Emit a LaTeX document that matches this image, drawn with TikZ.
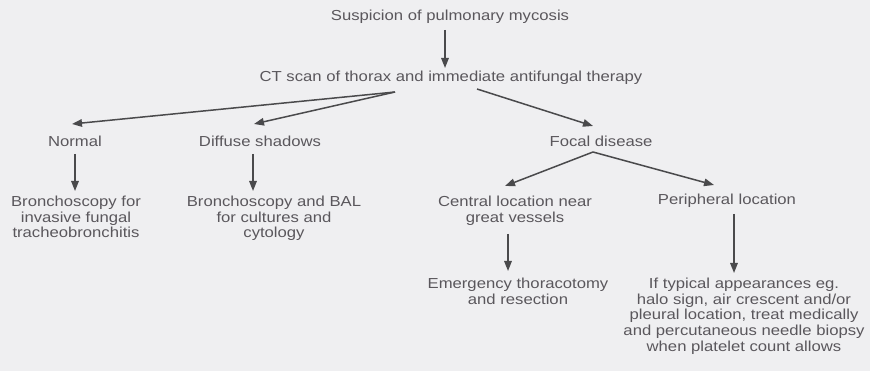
\documentclass[tikz,border=0pt]{standalone}
\usepackage{fontspec}
\setmainfont{Liberation Sans}[FakeStretch=1.15]
\usetikzlibrary{arrows.meta}
\definecolor{bg}{HTML}{EFEFF1}
\definecolor{txt}{HTML}{5A575C}
\definecolor{arr}{HTML}{4A4A4C}
\begin{document}
\begin{tikzpicture}[x=1pt,y=-1pt,
  lbl/.style={text=txt,font=\fontsize{14.5}{15.8}\selectfont,align=center,inner sep=0pt},
  conn/.style={draw=arr,line width=1.5pt,-{Triangle[length=10pt,width=7.5pt]}}]
\fill[bg] (0,0) rectangle (870,371);
\useasboundingbox (0,0) rectangle (870,371);

\node[lbl] (s) at (450,17) {Suspicion of pulmonary mycosis};
\node[lbl] (ct) at (451,78) {CT scan of thorax and immediate antifungal therapy};
\node[lbl] (normal) at (75,141) {Normal};
\node[lbl] (diffuse) at (260,141) {Diffuse shadows};
\node[lbl] (focal) at (601,141) {Focal disease};
\node[lbl,anchor=north] (bf) at (76,195.5) {Bronchoscopy for\\invasive fungal\\tracheobronchitis};
\node[lbl,anchor=north] (bbal) at (274,195.5) {Bronchoscopy and BAL\\for cultures and\\cytology};
\node[lbl,anchor=north] (central) at (515,195.5) {Central location near\\great vessels};
\node[lbl] (periph) at (727,201) {Peripheral location};
\node[lbl,anchor=north] (emerg) at (518,277.5) {Emergency thoracotomy\\and resection};
\node[lbl,anchor=north] (typical) at (744,277.5) {If typical appearances eg.\\halo sign, air crescent and/or\\pleural location, treat medically\\and percutaneous needle biopsy\\when platelet count allows};

\coordinate (fl) at ([shift={(-56,14)}]ct.center);
\coordinate (fr) at ([shift={(26,11)}]ct.center);
\coordinate (ff) at ([shift={(-8,11)}]focal.center);

\draw[conn] ([shift={(-5,13)}]s.center) -- ([shift={(-6,-10)}]ct.center);
\draw[conn] (fl) -- ([shift={(-3,-17)}]normal.center);
\draw[conn] (fl) -- ([shift={(-6,-17)}]diffuse.center);
\draw[conn] (fr) -- ([shift={(-8,-15)}]focal.center);
\draw[conn] ([shift={(0,13)}]normal.center) -- ([shift={(-1,-4.5)}]bf.north);
\draw[conn] ([shift={(-7,13)}]diffuse.center) -- ([shift={(-21,-4.5)}]bbal.north);
\draw[conn] (ff) -- ([shift={(-10,-9.5)}]central.north);
\draw[conn] (ff) -- ([shift={(-13,-16)}]periph.center);
\draw[conn] ([shift={(-7,38.5)}]central.north) -- ([shift={(-10,-6.5)}]emerg.north);
\draw[conn] ([shift={(7,13)}]periph.center) -- ([shift={(-10,-4.5)}]typical.north);
\end{tikzpicture}
\end{document}
